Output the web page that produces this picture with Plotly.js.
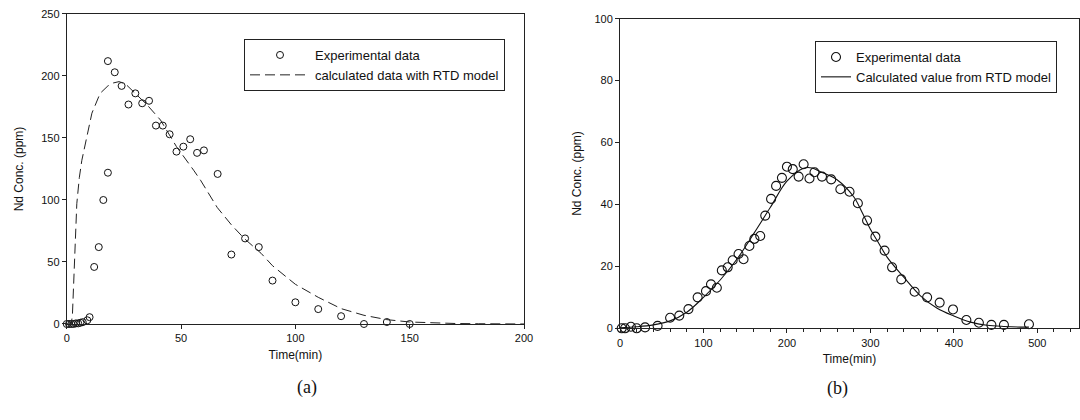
<!DOCTYPE html>
<html>
<head>
<meta charset="utf-8">
<script src="https://cdn.plot.ly/plotly-3.0.1.min.js"></script>
<style>html,body{margin:0;padding:0;background:#fff;}#chart{width:1080px;height:420px;}</style>
</head>
<body>
<div id="chart"></div>
<script>
// (a) experimental data
var aExpTime = [0, 1, 2, 3, 4, 5, 6, 7, 9, 10, 12, 14, 16, 18, 18, 21, 24, 27, 30, 33, 36, 39, 42, 45, 48, 51, 54, 57, 60, 66, 72, 78, 84, 90, 100, 110, 120, 130, 140, 150];
var aExpConc = [0, 0, 0, 0, 0.5, 0.5, 1, 1.5, 3, 5.5, 46, 62, 100, 122, 212, 203, 192, 177, 186, 178, 180, 160, 160, 153, 139, 143, 149, 138, 140, 121, 56, 69, 62, 35, 17.5, 12, 6.3, 0, 1.6, 0];
// (a) RTD model curve
var aModelTime = [0, 2, 2.5, 3, 3.6, 4.4, 5.5, 6.6, 8.8, 11, 14.6, 18, 20.4, 23, 26.3, 28.5, 35, 41, 48, 55.5, 58.5, 65.8, 72, 77.6, 85, 90, 100, 110, 120, 130, 140, 150, 160, 170, 180, 200];
var aModelConc = [0, 0, 8, 35, 63, 97, 118, 132, 151, 170, 186, 192, 194.4, 195.5, 192.5, 188.5, 177, 164.5, 143, 124, 116, 94, 80, 69, 57, 47, 32, 21.5, 12.4, 7, 3.5, 1.6, 0.8, 0.4, 0.2, 0];
// (b) experimental data
var bExpTime = [2, 6, 13, 20, 30, 45, 60, 71, 82, 93, 103, 109, 116, 122, 129, 135, 142, 148, 155, 161, 168, 174, 181, 187, 194, 200, 207, 214, 220, 227, 233, 242, 253, 264, 275, 285, 296, 306, 317, 326, 337, 353, 368, 383, 399, 415, 430, 445, 460, 490];
var bExpConc = [0, 0, 0.5, 0, 0.3, 0.8, 3.4, 4.1, 6.2, 10, 12, 14.2, 13.1, 18.7, 19.7, 22, 24, 22.3, 26.6, 28.9, 29.8, 36.4, 41.8, 46, 48.6, 52.2, 51.4, 49, 53, 48.4, 50.4, 49, 48.1, 44.9, 44.1, 40.4, 34.8, 29.6, 25.1, 19.7, 15.8, 11.8, 10, 8.3, 6.1, 2.7, 1.8, 1.1, 1.1, 1.3];
// (b) RTD model curve
var bModelTime = [0, 20, 40, 60, 80, 100, 120, 140, 160, 180, 200, 220, 230, 240, 260, 280, 290, 300, 310, 320, 340, 360, 380, 400, 420, 440, 460, 480, 490];
var bModelConc = [0.2, 0.5, 1.1, 2.4, 5.2, 10, 15.6, 22.3, 30.5, 39, 47.5, 51.7, 51.8, 50.6, 48, 42.5, 37.5, 32, 27.5, 23, 16.5, 10.5, 6.5, 4, 2, 1, 0.6, 0.4, 0.4];
// tick labels
var aTimeTicks = [0, 50, 100, 150, 200];
var aConcTicks = [0, 50, 100, 150, 200, 250];
var bTimeTicks = [0, 100, 200, 300, 400, 500];
var bConcTicks = [0, 20, 40, 60, 80, 100];

var FONT = 'Liberation Sans, Arial, sans-serif';
var traces = [
  {x: aExpTime, y: aExpConc, type: 'scatter', mode: 'markers', name: 'Experimental data',
   xaxis: 'x', yaxis: 'y', legend: 'legend', cliponaxis: false,
   marker: {symbol: 'circle-open', size: 7, color: '#111', line: {width: 1, color: '#111'}}},
  {x: aModelTime, y: aModelConc, type: 'scatter', mode: 'lines', name: 'calculated data with RTD model',
   xaxis: 'x', yaxis: 'y', legend: 'legend', cliponaxis: false,
   line: {color: '#222', width: 1, dash: '10px,5px'}},
  {x: bExpTime, y: bExpConc, type: 'scatter', mode: 'markers', name: 'Experimental data',
   xaxis: 'x2', yaxis: 'y2', legend: 'legend2', cliponaxis: false,
   marker: {symbol: 'circle-open', size: 9, color: '#111', line: {width: 1.1, color: '#111'}}},
  {x: bModelTime, y: bModelConc, type: 'scatter', mode: 'lines', name: 'Calculated value from RTD model',
   xaxis: 'x2', yaxis: 'y2', legend: 'legend2', cliponaxis: false,
   line: {color: '#111', width: 1.1, shape: 'spline'}}
];

function axisBase() {
  return {showline: true, mirror: true, linecolor: '#222', linewidth: 1, showgrid: false, zeroline: false,
    ticks: 'outside', ticklen: 4, tickcolor: '#222', tickfont: {family: FONT, size: 11, color: '#111'}};
}
var xa = Object.assign(axisBase(), {domain: [0.0618, 0.4852], range: [0, 200], tickvals: aTimeTicks, anchor: 'y',
  title: {text: 'Time(min)', font: {family: FONT, size: 12, color: '#111'}, standoff: 7}});
var ya = Object.assign(axisBase(), {domain: [0.2286, 0.9667], range: [0, 250], tickvals: aConcTicks, anchor: 'x',
  title: {text: 'Nd Conc. (ppm)', font: {family: FONT, size: 12, color: '#111'}, standoff: 14}});
var xb = Object.assign(axisBase(), {domain: [0.5741, 0.9991], range: [0, 550], tickvals: bTimeTicks, anchor: 'y2',
  minor: {dtick: 20, ticks: 'outside', ticklen: 3, tickcolor: '#222'},
  title: {text: 'Time(min)', font: {family: FONT, size: 12, color: '#111'}, standoff: 7}});
var yb = Object.assign(axisBase(), {domain: [0.2183, 0.9555], range: [0, 100], tickvals: bConcTicks, anchor: 'x2',
  title: {text: 'Nd Conc. (ppm)', font: {family: FONT, size: 12, color: '#111'}, standoff: 10}});

var layout = {
  width: 1080, height: 420, margin: {l: 0, r: 0, t: 0, b: 0},
  paper_bgcolor: '#fff', plot_bgcolor: '#fff', showlegend: true,
  font: {family: FONT, color: '#111'},
  xaxis: xa, yaxis: ya, xaxis2: xb, yaxis2: yb,
  legend: {x: 244 / 1080, y: 1 - 39 / 420, xanchor: 'left', yanchor: 'top', bgcolor: '#fff',
    bordercolor: '#222', borderwidth: 1, itemwidth: 60, entrywidth: 192, entrywidthmode: 'pixels',
    font: {family: FONT, size: 13, color: '#111'}},
  legend2: {x: 815 / 1080, y: 1 - 41 / 420, xanchor: 'left', yanchor: 'top', bgcolor: '#fff',
    bordercolor: '#222', borderwidth: 1, itemwidth: 30, entrywidth: 198, entrywidthmode: 'pixels',
    font: {family: FONT, size: 13, color: '#111'}},
  annotations: [
    {text: '(a)', xref: 'paper', yref: 'paper', x: 0.2735, y: 1 - 400 / 420, showarrow: false,
     font: {family: 'Liberation Serif, Times New Roman, serif', size: 18, color: '#111'}},
    {text: '(b)', xref: 'paper', yref: 'paper', x: 0.7866, y: 1 - 401 / 420, showarrow: false,
     font: {family: 'Liberation Serif, Times New Roman, serif', size: 18, color: '#111'}}
  ]
};
Plotly.newPlot('chart', traces, layout, {displayModeBar: false, staticPlot: true});
</script>
</body>
</html>
